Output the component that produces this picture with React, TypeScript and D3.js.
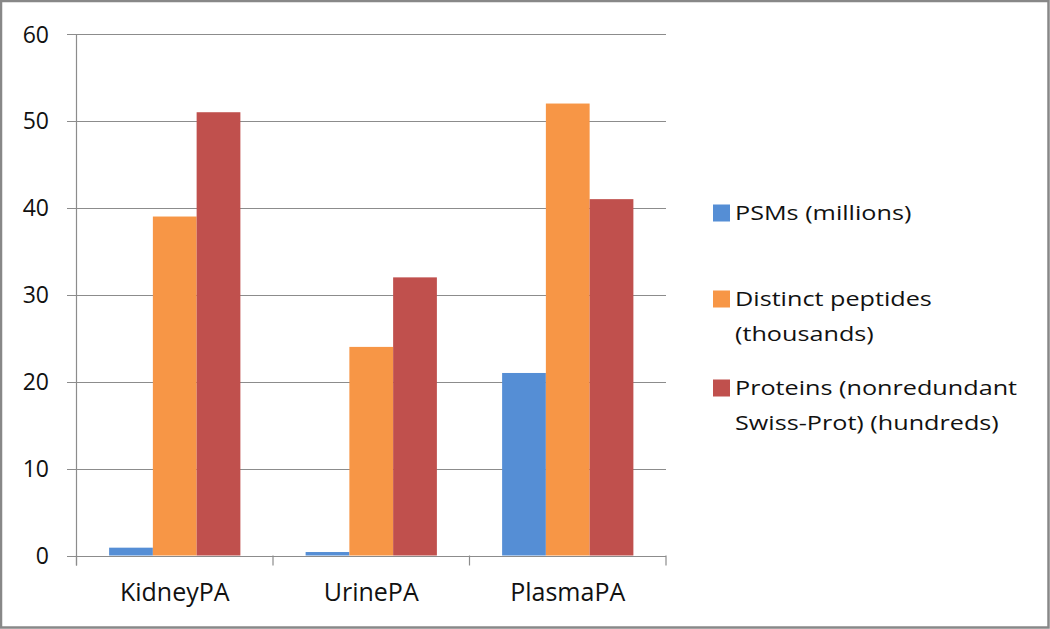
import React from "react";
import * as d3 from "d3";

const categories = ["KidneyPA", "UrinePA", "PlasmaPA"];
const seriesNames = ["PSMs (millions)", "Distinct peptides (thousands)", "Proteins (nonredundant Swiss-Prot) (hundreds)"];
const legendLines = [["PSMs (millions)"], ["Distinct peptides", "(thousands)"], ["Proteins (nonredundant", "Swiss-Prot) (hundreds)"]];
const psms = [0.9, 0.4, 21];
const peptides = [39, 24, 52];
const proteins = [51, 32, 41];
const yTicks = [0, 10, 20, 30, 40, 50, 60];
const colors = ["#558ED5", "#F79646", "#C0504D"];

const W = 1050, H = 629;
const X0 = 76.5, X1 = 666, Y0 = 555.5, Y1 = 34;
const FONT = "'Open Sans', sans-serif";

export default function App() {
  const series = [psms, peptides, proteins];
  const x = d3.scaleBand<string>().domain(categories).range([X0, X1]).paddingInner(0).paddingOuter(0);
  const pad = x.bandwidth() * 0.166;
  const inner = d3.scaleBand<number>().domain([0, 1, 2]).range([pad, x.bandwidth() - pad]).padding(0);
  const y = d3.scaleLinear().domain([0, 60]).range([Y0, Y1]);
  const gray = "#8c8c8c";
  const catTicks = [X0, ...categories.map((c) => (x(c) as number) + x.bandwidth())];
  const legendY = [213, 299, 388];
  return (
    <div style={{ position: "absolute", left: 0, top: 0 }}>
      <svg width={W} height={H} style={{ display: "block" }}>
        <rect x={0} y={0} width={W} height={H} fill="#fff" />
        <rect x={1} y={1} width={W - 2.5} height={H - 2.5} fill="none" stroke="#888" strokeWidth={2.5} />
        {yTicks.map((t) => (
          <g key={t}>
            <line x1={67} x2={X1} y1={Math.round(y(t)) + 0.5} y2={Math.round(y(t)) + 0.5} stroke={gray} strokeWidth={1.2} />
            <text x={49} y={y(t) + 8.5} textAnchor="end" fontFamily={FONT} fontSize={23} fill="#111">{t}</text>
          </g>
        ))}
        <line x1={X0} x2={X0} y1={Y1} y2={Y0 + 10} stroke={gray} strokeWidth={1.2} />
        {catTicks.map((cx, i) => (
          <line key={i} x1={cx} x2={cx} y1={Y0} y2={Y0 + 10} stroke={gray} strokeWidth={1.2} />
        ))}
        {categories.map((c, ci) => (
          <g key={c}>
            {series.map((s, si) => (
              <rect key={si} x={(x(c) as number) + (inner(si) as number)} y={y(s[ci])}
                width={inner.bandwidth()} height={y(0) - y(s[ci])} fill={colors[si]} />
            ))}
            <text x={(x(c) as number) + x.bandwidth() / 2} y={601} textAnchor="middle"
              fontFamily={FONT} fontSize={25} fill="#111">{c}</text>
          </g>
        ))}
        {seriesNames.map((n, i) => (
          <g key={n}>
            <rect x={713} y={legendY[i] - 8.5} width={17} height={17} fill={colors[i]} />
            {legendLines[i].map((l, li) => (
              <text key={li} transform={`translate(735,${legendY[i] + li * 35 + 7}) scale(1.26,1)`}
                fontFamily={FONT} fontSize={20} fill="#111">{l}</text>
            ))}
          </g>
        ))}
      </svg>
    </div>
  );
}
